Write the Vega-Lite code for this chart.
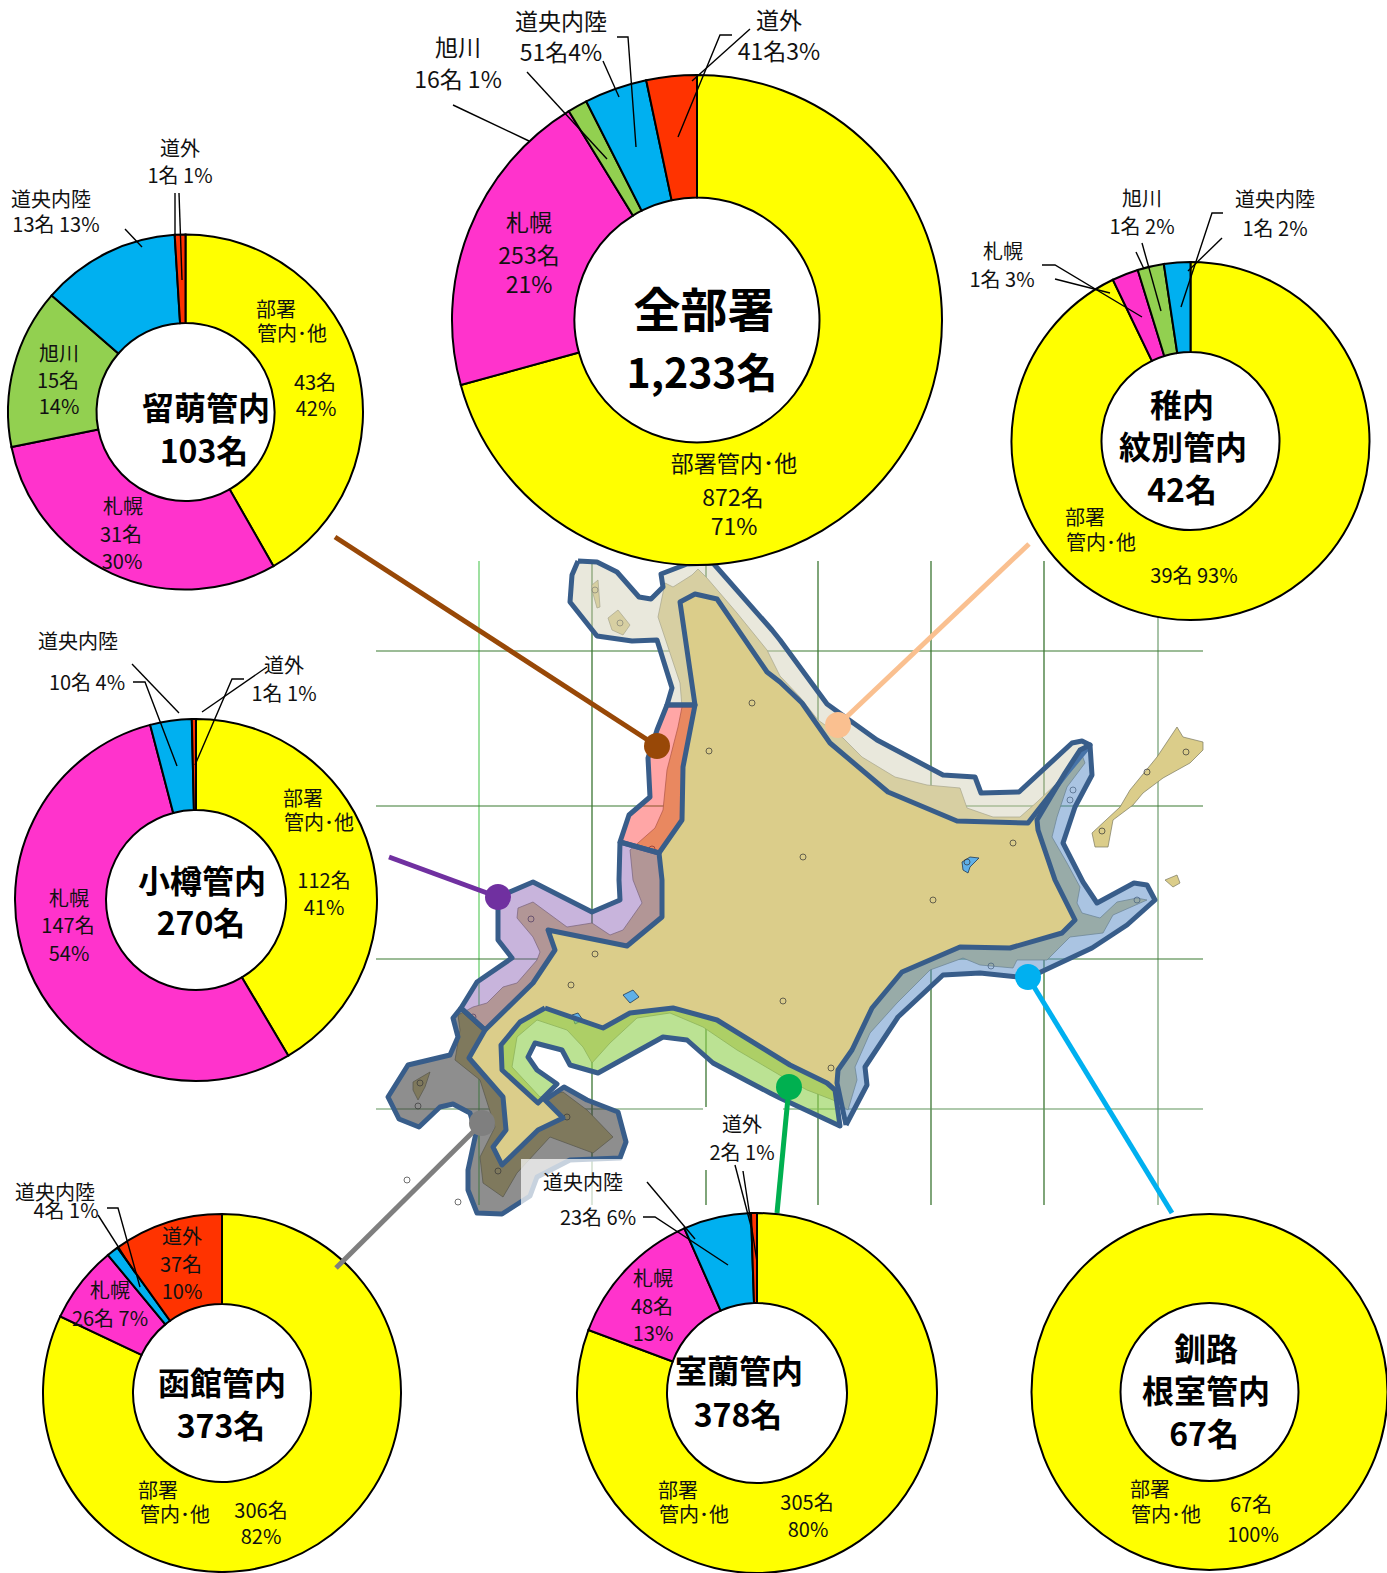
{
"$schema":"https://vega.github.io/schema/vega-lite/v6.json",
"width":1387,"height":1573,"padding":0,
"autosize":{"type":"none"},
"background":"white",
"config":{"view":{"stroke":null},"axis":{"disable":true}},
"datasets":{
"shares":[
{"panel":"全部署","category":"部署管内・他","value":872,"order":1},{"panel":"全部署","category":"札幌","value":253,"order":2},{"panel":"全部署","category":"旭川","value":16,"order":3},{"panel":"全部署","category":"道央内陸","value":51,"order":4},{"panel":"全部署","category":"道外","value":41,"order":5},
{"panel":"留萌","category":"部署管内・他","value":43,"order":1},{"panel":"留萌","category":"札幌","value":31,"order":2},{"panel":"留萌","category":"旭川","value":15,"order":3},{"panel":"留萌","category":"道央内陸","value":13,"order":4},{"panel":"留萌","category":"道外","value":1,"order":5},
{"panel":"稚内","category":"部署管内・他","value":39,"order":1},{"panel":"稚内","category":"札幌","value":1,"order":2},{"panel":"稚内","category":"旭川","value":1,"order":3},{"panel":"稚内","category":"道央内陸","value":1,"order":4},
{"panel":"小樽","category":"部署管内・他","value":112,"order":1},{"panel":"小樽","category":"札幌","value":147,"order":2},{"panel":"小樽","category":"道央内陸","value":10,"order":3},{"panel":"小樽","category":"道外","value":1,"order":4},
{"panel":"函館","category":"部署管内・他","value":306,"order":1},{"panel":"函館","category":"札幌","value":26,"order":2},{"panel":"函館","category":"道央内陸","value":4,"order":3},{"panel":"函館","category":"道外","value":37,"order":4},
{"panel":"室蘭","category":"部署管内・他","value":305,"order":1},{"panel":"室蘭","category":"札幌","value":48,"order":2},{"panel":"室蘭","category":"道央内陸","value":23,"order":3},{"panel":"室蘭","category":"道外","value":2,"order":4},
{"panel":"釧路","category":"部署管内・他","value":67,"order":1}
],
"grid":[
{"kind":"v1","x":479,"y":561,"x2":479,"y2":1205},{"kind":"v","x":592,"y":561,"x2":592,"y2":1205},{"kind":"v","x":706,"y":561,"x2":706,"y2":1205},{"kind":"v","x":818,"y":561,"x2":818,"y2":1205},{"kind":"v","x":931,"y":561,"x2":931,"y2":1205},{"kind":"v","x":1044,"y":561,"x2":1044,"y2":1205},{"kind":"v2","x":1158,"y":561,"x2":1158,"y2":1205},
{"kind":"h","x":376,"y":651,"x2":1203,"y2":651},{"kind":"h","x":376,"y":806,"x2":1203,"y2":806},{"kind":"h","x":376,"y":959,"x2":1203,"y2":959},{"kind":"h2","x":376,"y":1109,"x2":1203,"y2":1109}
],
"land":[
{"id":"main","i":0,"x":698,"y":569},{"id":"main","i":1,"x":707,"y":578},{"id":"main","i":2,"x":737,"y":613},{"id":"main","i":3,"x":767,"y":650},{"id":"main","i":4,"x":780,"y":676},{"id":"main","i":5,"x":800,"y":697},{"id":"main","i":6,"x":818,"y":720},{"id":"main","i":7,"x":843,"y":738},{"id":"main","i":8,"x":862,"y":757},{"id":"main","i":9,"x":895,"y":777},{"id":"main","i":10,"x":927,"y":785},{"id":"main","i":11,"x":960,"y":788},{"id":"main","i":12,"x":967,"y":808},{"id":"main","i":13,"x":993,"y":817},{"id":"main","i":14,"x":1020,"y":817},{"id":"main","i":15,"x":1037,"y":802},{"id":"main","i":16,"x":1057,"y":783},{"id":"main","i":17,"x":1082,"y":755},{"id":"main","i":18,"x":1085,"y":763},{"id":"main","i":19,"x":1067,"y":787},{"id":"main","i":20,"x":1057,"y":817},{"id":"main","i":21,"x":1052,"y":837},{"id":"main","i":22,"x":1067,"y":863},{"id":"main","i":23,"x":1080,"y":887},{"id":"main","i":24,"x":1077,"y":903},{"id":"main","i":25,"x":1082,"y":913},{"id":"main","i":26,"x":1100,"y":918},{"id":"main","i":27,"x":1117,"y":902},{"id":"main","i":28,"x":1137,"y":898},{"id":"main","i":29,"x":1147,"y":900},{"id":"main","i":30,"x":1113,"y":915},{"id":"main","i":31,"x":1103,"y":933},{"id":"main","i":32,"x":1070,"y":937},{"id":"main","i":33,"x":1060,"y":947},{"id":"main","i":34,"x":1047,"y":960},{"id":"main","i":35,"x":1017,"y":960},{"id":"main","i":36,"x":1013,"y":968},{"id":"main","i":37,"x":980,"y":965},{"id":"main","i":38,"x":963,"y":958},{"id":"main","i":39,"x":930,"y":970},{"id":"main","i":40,"x":897,"y":1003},{"id":"main","i":41,"x":870,"y":1033},{"id":"main","i":42,"x":855,"y":1067},{"id":"main","i":43,"x":857,"y":1080},{"id":"main","i":44,"x":848,"y":1110},{"id":"main","i":45,"x":833,"y":1100},{"id":"main","i":46,"x":807,"y":1090},{"id":"main","i":47,"x":783,"y":1077},{"id":"main","i":48,"x":737,"y":1050},{"id":"main","i":49,"x":703,"y":1027},{"id":"main","i":50,"x":670,"y":1013},{"id":"main","i":51,"x":637,"y":1018},{"id":"main","i":52,"x":610,"y":1043},{"id":"main","i":53,"x":592,"y":1063},{"id":"main","i":54,"x":583,"y":1047},{"id":"main","i":55,"x":567,"y":1030},{"id":"main","i":56,"x":537,"y":1020},{"id":"main","i":57,"x":517,"y":1037},{"id":"main","i":58,"x":512,"y":1067},{"id":"main","i":59,"x":540,"y":1097},{"id":"main","i":60,"x":563,"y":1092},{"id":"main","i":61,"x":587,"y":1110},{"id":"main","i":62,"x":613,"y":1137},{"id":"main","i":63,"x":593,"y":1153},{"id":"main","i":64,"x":550,"y":1137},{"id":"main","i":65,"x":517,"y":1173},{"id":"main","i":66,"x":503,"y":1197},{"id":"main","i":67,"x":483,"y":1183},{"id":"main","i":68,"x":480,"y":1157},{"id":"main","i":69,"x":495,"y":1127},{"id":"main","i":70,"x":480,"y":1080},{"id":"main","i":71,"x":455,"y":1060},{"id":"main","i":72,"x":460,"y":1030},{"id":"main","i":73,"x":458,"y":1015},{"id":"main","i":74,"x":473,"y":1007},{"id":"main","i":75,"x":487,"y":1003},{"id":"main","i":76,"x":503,"y":987},{"id":"main","i":77,"x":517,"y":983},{"id":"main","i":78,"x":537,"y":960},{"id":"main","i":79,"x":540,"y":952},{"id":"main","i":80,"x":533,"y":937},{"id":"main","i":81,"x":517,"y":918},{"id":"main","i":82,"x":518,"y":908},{"id":"main","i":83,"x":533,"y":902},{"id":"main","i":84,"x":567,"y":927},{"id":"main","i":85,"x":592,"y":923},{"id":"main","i":86,"x":610,"y":935},{"id":"main","i":87,"x":623,"y":930},{"id":"main","i":88,"x":642,"y":903},{"id":"main","i":89,"x":633,"y":880},{"id":"main","i":90,"x":630,"y":850},{"id":"main","i":91,"x":655,"y":828},{"id":"main","i":92,"x":663,"y":810},{"id":"main","i":93,"x":667,"y":770},{"id":"main","i":94,"x":678,"y":727},{"id":"main","i":95,"x":682,"y":707},{"id":"main","i":96,"x":680,"y":683},{"id":"main","i":97,"x":670,"y":653},{"id":"main","i":98,"x":658,"y":617},{"id":"main","i":99,"x":665,"y":583},{"id":"main","i":100,"x":673,"y":587},{"id":"main","i":101,"x":692,"y":575},{"id":"main","i":102,"x":698,"y":569},
{"id":"rebun","i":0,"x":592,"y":585},{"id":"rebun","i":1,"x":598,"y":580},{"id":"rebun","i":2,"x":600,"y":607},{"id":"rebun","i":3,"x":597,"y":608},{"id":"rebun","i":4,"x":592,"y":590},{"id":"rebun","i":5,"x":592,"y":585},
{"id":"rishiri","i":0,"x":608,"y":618},{"id":"rishiri","i":1,"x":618,"y":610},{"id":"rishiri","i":2,"x":630,"y":625},{"id":"rishiri","i":3,"x":623,"y":635},{"id":"rishiri","i":4,"x":612,"y":630},{"id":"rishiri","i":5,"x":608,"y":618},
{"id":"okushiri","i":0,"x":413,"y":1082},{"id":"okushiri","i":1,"x":430,"y":1072},{"id":"okushiri","i":2,"x":425,"y":1087},{"id":"okushiri","i":3,"x":418,"y":1100},{"id":"okushiri","i":4,"x":413,"y":1090},{"id":"okushiri","i":5,"x":413,"y":1082},
{"id":"kunashiri","i":0,"x":1092,"y":833},{"id":"kunashiri","i":1,"x":1120,"y":807},{"id":"kunashiri","i":2,"x":1130,"y":790},{"id":"kunashiri","i":3,"x":1157,"y":757},{"id":"kunashiri","i":4,"x":1177,"y":727},{"id":"kunashiri","i":5,"x":1183,"y":737},{"id":"kunashiri","i":6,"x":1203,"y":742},{"id":"kunashiri","i":7,"x":1203,"y":750},{"id":"kunashiri","i":8,"x":1190,"y":763},{"id":"kunashiri","i":9,"x":1163,"y":778},{"id":"kunashiri","i":10,"x":1143,"y":793},{"id":"kunashiri","i":11,"x":1133,"y":805},{"id":"kunashiri","i":12,"x":1113,"y":820},{"id":"kunashiri","i":13,"x":1108,"y":847},{"id":"kunashiri","i":14,"x":1095,"y":847},{"id":"kunashiri","i":15,"x":1092,"y":833},
{"id":"shikotan","i":0,"x":1165,"y":880},{"id":"shikotan","i":1,"x":1177,"y":875},{"id":"shikotan","i":2,"x":1180,"y":883},{"id":"shikotan","i":3,"x":1173,"y":887},{"id":"shikotan","i":4,"x":1165,"y":880}
],
"lakes":[
{"id":"a","i":0,"x":962,"y":862},{"id":"a","i":1,"x":970,"y":857},{"id":"a","i":2,"x":979,"y":858},{"id":"a","i":3,"x":970,"y":867},{"id":"a","i":4,"x":968,"y":873},{"id":"a","i":5,"x":963,"y":870},{"id":"a","i":6,"x":962,"y":862},
{"id":"b","i":0,"x":623,"y":995},{"id":"b","i":1,"x":633,"y":990},{"id":"b","i":2,"x":639,"y":997},{"id":"b","i":3,"x":630,"y":1003},{"id":"b","i":4,"x":623,"y":995},
{"id":"c","i":0,"x":572,"y":1015},{"id":"c","i":1,"x":578,"y":1013},{"id":"c","i":2,"x":583,"y":1020},{"id":"c","i":3,"x":575,"y":1024},{"id":"c","i":4,"x":572,"y":1015}
],
"towns":[{"x":752,"y":703},{"x":709,"y":751},{"x":652,"y":849},{"x":595,"y":590},{"x":620,"y":623},{"x":803,"y":857},{"x":1013,"y":843},{"x":1186,"y":752},{"x":1147,"y":772},{"x":1102,"y":831},{"x":967,"y":862},{"x":1073,"y":790},{"x":1070,"y":800},{"x":531,"y":919},{"x":595,"y":954},{"x":571,"y":985},{"x":783,"y":1001},{"x":567,"y":1117},{"x":498,"y":1171},{"x":420,"y":1083},{"x":418,"y":1106},{"x":407,"y":1180},{"x":458,"y":1202},{"x":473,"y":1017},{"x":933,"y":900},{"x":831,"y":1068},{"x":991,"y":966},{"x":1137,"y":900}],
"regions":[
{"r":"宗谷","i":0,"x":578,"y":561},{"r":"宗谷","i":1,"x":597,"y":562},{"r":"宗谷","i":2,"x":617,"y":572},{"r":"宗谷","i":3,"x":639,"y":597},{"r":"宗谷","i":4,"x":651,"y":599},{"r":"宗谷","i":5,"x":663,"y":587},{"r":"宗谷","i":6,"x":661,"y":574},{"r":"宗谷","i":7,"x":687,"y":564},{"r":"宗谷","i":8,"x":713,"y":563},{"r":"宗谷","i":9,"x":772,"y":630},{"r":"宗谷","i":10,"x":780,"y":640},{"r":"宗谷","i":11,"x":827,"y":704},{"r":"宗谷","i":12,"x":877,"y":740},{"r":"宗谷","i":13,"x":943,"y":775},{"r":"宗谷","i":14,"x":975,"y":777},{"r":"宗谷","i":15,"x":981,"y":793},{"r":"宗谷","i":16,"x":1019,"y":792},{"r":"宗谷","i":17,"x":1072,"y":743},{"r":"宗谷","i":18,"x":1082,"y":741},{"r":"宗谷","i":19,"x":1090,"y":745},{"r":"宗谷","i":20,"x":1067,"y":773},{"r":"宗谷","i":21,"x":1028,"y":823},{"r":"宗谷","i":22,"x":957,"y":821},{"r":"宗谷","i":23,"x":888,"y":792},{"r":"宗谷","i":24,"x":830,"y":743},{"r":"宗谷","i":25,"x":802,"y":703},{"r":"宗谷","i":26,"x":780,"y":682},{"r":"宗谷","i":27,"x":767,"y":672},{"r":"宗谷","i":28,"x":717,"y":599},{"r":"宗谷","i":29,"x":695,"y":594},{"r":"宗谷","i":30,"x":680,"y":602},{"r":"宗谷","i":31,"x":695,"y":705},{"r":"宗谷","i":32,"x":667,"y":705},{"r":"宗谷","i":33,"x":672,"y":688},{"r":"宗谷","i":34,"x":657,"y":640},{"r":"宗谷","i":35,"x":632,"y":641},{"r":"宗谷","i":36,"x":597,"y":636},{"r":"宗谷","i":37,"x":570,"y":602},{"r":"宗谷","i":38,"x":572,"y":575},{"r":"宗谷","i":39,"x":578,"y":561},
{"r":"留萌","i":0,"x":667,"y":705},{"r":"留萌","i":1,"x":695,"y":705},{"r":"留萌","i":2,"x":683,"y":767},{"r":"留萌","i":3,"x":682,"y":820},{"r":"留萌","i":4,"x":659,"y":853},{"r":"留萌","i":5,"x":620,"y":842},{"r":"留萌","i":6,"x":629,"y":815},{"r":"留萌","i":7,"x":650,"y":797},{"r":"留萌","i":8,"x":648,"y":758},{"r":"留萌","i":9,"x":657,"y":730},{"r":"留萌","i":10,"x":667,"y":705},
{"r":"小樽","i":0,"x":620,"y":842},{"r":"小樽","i":1,"x":659,"y":853},{"r":"小樽","i":2,"x":662,"y":880},{"r":"小樽","i":3,"x":662,"y":917},{"r":"小樽","i":4,"x":627,"y":946},{"r":"小樽","i":5,"x":548,"y":930},{"r":"小樽","i":6,"x":555,"y":950},{"r":"小樽","i":7,"x":533,"y":983},{"r":"小樽","i":8,"x":485,"y":1030},{"r":"小樽","i":9,"x":461,"y":1008},{"r":"小樽","i":10,"x":477,"y":982},{"r":"小樽","i":11,"x":512,"y":958},{"r":"小樽","i":12,"x":498,"y":940},{"r":"小樽","i":13,"x":498,"y":897},{"r":"小樽","i":14,"x":533,"y":882},{"r":"小樽","i":15,"x":592,"y":912},{"r":"小樽","i":16,"x":620,"y":900},{"r":"小樽","i":17,"x":619,"y":880},{"r":"小樽","i":18,"x":620,"y":842},
{"r":"函館","i":0,"x":461,"y":1008},{"r":"函館","i":1,"x":485,"y":1030},{"r":"函館","i":2,"x":469,"y":1058},{"r":"函館","i":3,"x":503,"y":1097},{"r":"函館","i":4,"x":506,"y":1130},{"r":"函館","i":5,"x":493,"y":1147},{"r":"函館","i":6,"x":502,"y":1165},{"r":"函館","i":7,"x":538,"y":1130},{"r":"函館","i":8,"x":563,"y":1118},{"r":"函館","i":9,"x":545,"y":1100},{"r":"函館","i":10,"x":564,"y":1087},{"r":"函館","i":11,"x":587,"y":1100},{"r":"函館","i":12,"x":618,"y":1112},{"r":"函館","i":13,"x":626,"y":1142},{"r":"函館","i":14,"x":620,"y":1158},{"r":"函館","i":15,"x":570,"y":1160},{"r":"函館","i":16,"x":537,"y":1177},{"r":"函館","i":17,"x":530,"y":1196},{"r":"函館","i":18,"x":502,"y":1214},{"r":"函館","i":19,"x":477,"y":1213},{"r":"函館","i":20,"x":468,"y":1190},{"r":"函館","i":21,"x":468,"y":1170},{"r":"函館","i":22,"x":476,"y":1133},{"r":"函館","i":23,"x":470,"y":1113},{"r":"函館","i":24,"x":453,"y":1104},{"r":"函館","i":25,"x":440,"y":1107},{"r":"函館","i":26,"x":419,"y":1127},{"r":"函館","i":27,"x":399,"y":1119},{"r":"函館","i":28,"x":388,"y":1097},{"r":"函館","i":29,"x":408,"y":1065},{"r":"函館","i":30,"x":450,"y":1055},{"r":"函館","i":31,"x":458,"y":1037},{"r":"函館","i":32,"x":453,"y":1018},{"r":"函館","i":33,"x":461,"y":1008},
{"r":"室蘭","i":0,"x":545,"y":1008},{"r":"室蘭","i":1,"x":603,"y":1028},{"r":"室蘭","i":2,"x":630,"y":1013},{"r":"室蘭","i":3,"x":673,"y":1008},{"r":"室蘭","i":4,"x":717,"y":1020},{"r":"室蘭","i":5,"x":790,"y":1065},{"r":"室蘭","i":6,"x":827,"y":1083},{"r":"室蘭","i":7,"x":835,"y":1090},{"r":"室蘭","i":8,"x":840,"y":1126},{"r":"室蘭","i":9,"x":780,"y":1098},{"r":"室蘭","i":10,"x":770,"y":1093},{"r":"室蘭","i":11,"x":713,"y":1063},{"r":"室蘭","i":12,"x":687,"y":1040},{"r":"室蘭","i":13,"x":663,"y":1037},{"r":"室蘭","i":14,"x":598,"y":1073},{"r":"室蘭","i":15,"x":570,"y":1065},{"r":"室蘭","i":16,"x":562,"y":1050},{"r":"室蘭","i":17,"x":535,"y":1043},{"r":"室蘭","i":18,"x":528,"y":1057},{"r":"室蘭","i":19,"x":537,"y":1070},{"r":"室蘭","i":20,"x":557,"y":1084},{"r":"室蘭","i":21,"x":538,"y":1103},{"r":"室蘭","i":22,"x":502,"y":1070},{"r":"室蘭","i":23,"x":501,"y":1045},{"r":"室蘭","i":24,"x":520,"y":1022},{"r":"室蘭","i":25,"x":545,"y":1008},
{"r":"釧路","i":0,"x":846,"y":1125},{"r":"釧路","i":1,"x":867,"y":1085},{"r":"釧路","i":2,"x":865,"y":1067},{"r":"釧路","i":3,"x":898,"y":1017},{"r":"釧路","i":4,"x":943,"y":975},{"r":"釧路","i":5,"x":980,"y":973},{"r":"釧路","i":6,"x":1028,"y":978},{"r":"釧路","i":7,"x":1092,"y":948},{"r":"釧路","i":8,"x":1127,"y":925},{"r":"釧路","i":9,"x":1155,"y":900},{"r":"釧路","i":10,"x":1147,"y":885},{"r":"釧路","i":11,"x":1134,"y":883},{"r":"釧路","i":12,"x":1097,"y":903},{"r":"釧路","i":13,"x":1083,"y":882},{"r":"釧路","i":14,"x":1063,"y":843},{"r":"釧路","i":15,"x":1075,"y":807},{"r":"釧路","i":16,"x":1092,"y":775},{"r":"釧路","i":17,"x":1090,"y":745},{"r":"釧路","i":18,"x":1080,"y":750},{"r":"釧路","i":19,"x":1065,"y":773},{"r":"釧路","i":20,"x":1037,"y":820},{"r":"釧路","i":21,"x":1038,"y":830},{"r":"釧路","i":22,"x":1055,"y":880},{"r":"釧路","i":23,"x":1075,"y":920},{"r":"釧路","i":24,"x":1062,"y":933},{"r":"釧路","i":25,"x":1010,"y":948},{"r":"釧路","i":26,"x":960,"y":947},{"r":"釧路","i":27,"x":902,"y":972},{"r":"釧路","i":28,"x":872,"y":1008},{"r":"釧路","i":29,"x":852,"y":1050},{"r":"釧路","i":30,"x":838,"y":1070},{"r":"釧路","i":31,"x":837,"y":1083},{"r":"釧路","i":32,"x":846,"y":1125}
],
"boxes":[{"kind":"soft","x":521,"y":1159,"x2":647,"y2":1206},{"kind":"solid","x":703,"y":1107,"x2":783,"y2":1170}],
"connectors":[
{"r":"留萌","x":335,"y":537,"x2":657,"y2":746},
{"r":"稚内","x":1029,"y":544,"x2":838,"y2":725},
{"r":"小樽","x":389,"y":857,"x2":498,"y2":897},
{"r":"函館","x":336,"y":1268,"x2":482,"y2":1123},
{"r":"室蘭","x":777,"y":1213,"x2":789,"y2":1087},
{"r":"釧路","x":1172,"y":1213,"x2":1028,"y2":977}
],
"leaders":[
{"id":"a1","i":0,"x":732,"y":35},{"id":"a1","i":1,"x":720,"y":35},{"id":"a1","i":2,"x":678,"y":137},
{"id":"a2","i":0,"x":750,"y":29},{"id":"a2","i":1,"x":692,"y":81},
{"id":"a3","i":0,"x":617,"y":37},{"id":"a3","i":1,"x":628,"y":37},{"id":"a3","i":2,"x":636,"y":147},
{"id":"a4","i":0,"x":603,"y":61},{"id":"a4","i":1,"x":619,"y":97},
{"id":"a5","i":0,"x":527,"y":72},{"id":"a5","i":1,"x":607,"y":159},
{"id":"a6","i":0,"x":453,"y":105},{"id":"a6","i":1,"x":529,"y":141},
{"id":"b1","i":0,"x":175,"y":193},{"id":"b1","i":1,"x":175,"y":237},
{"id":"b2","i":0,"x":179,"y":193},{"id":"b2","i":1,"x":182,"y":280},
{"id":"b3","i":0,"x":125,"y":229},{"id":"b3","i":1,"x":142,"y":247},
{"id":"c1","i":0,"x":1223,"y":213},{"id":"c1","i":1,"x":1212,"y":213},{"id":"c1","i":2,"x":1181,"y":307},
{"id":"c2","i":0,"x":1222,"y":238},{"id":"c2","i":1,"x":1188,"y":271},
{"id":"c3","i":0,"x":1142,"y":243},{"id":"c3","i":1,"x":1161,"y":311},
{"id":"c4","i":0,"x":1136,"y":252},{"id":"c4","i":1,"x":1144,"y":269},
{"id":"c5","i":0,"x":1042,"y":265},{"id":"c5","i":1,"x":1055,"y":265},{"id":"c5","i":2,"x":1142,"y":317},
{"id":"c6","i":0,"x":1055,"y":279},{"id":"c6","i":1,"x":1110,"y":293},
{"id":"d1","i":0,"x":132,"y":664},{"id":"d1","i":1,"x":179,"y":713},
{"id":"d2","i":0,"x":133,"y":682},{"id":"d2","i":1,"x":145,"y":682},{"id":"d2","i":2,"x":177,"y":766},
{"id":"d3","i":0,"x":244,"y":679},{"id":"d3","i":1,"x":232,"y":679},{"id":"d3","i":2,"x":195,"y":765},
{"id":"d4","i":0,"x":267,"y":667},{"id":"d4","i":1,"x":202,"y":712},
{"id":"e1","i":0,"x":107,"y":1208},{"id":"e1","i":1,"x":118,"y":1208},{"id":"e1","i":2,"x":140,"y":1287},
{"id":"e2","i":0,"x":98,"y":1215},{"id":"e2","i":1,"x":135,"y":1273},
{"id":"f1","i":0,"x":647,"y":1182},{"id":"f1","i":1,"x":695,"y":1239},
{"id":"f2","i":0,"x":643,"y":1217},{"id":"f2","i":1,"x":655,"y":1217},{"id":"f2","i":2,"x":728,"y":1265},
{"id":"f3","i":0,"x":735,"y":1165},{"id":"f3","i":1,"x":752,"y":1230},
{"id":"f4","i":0,"x":743,"y":1171},{"id":"f4","i":1,"x":757,"y":1262}
],
"labels":[
{"kind":"bigTitle","text":"全部署","x":704,"y":311},{"kind":"bigCount","text":"1,233名","x":702,"y":374},
{"kind":"main","text":"部署管内･他","x":734,"y":464},{"kind":"main","text":"872名","x":733,"y":498},{"kind":"main","text":"71%","x":734,"y":527},{"kind":"main","text":"札幌","x":529,"y":223},{"kind":"main","text":"253名","x":529,"y":256},{"kind":"main","text":"21%","x":529,"y":285},{"kind":"main","text":"旭川","x":458,"y":48},{"kind":"main","text":"16名 1%","x":458,"y":80},{"kind":"main","text":"道央内陸","x":561,"y":22},{"kind":"main","text":"51名4%","x":561,"y":53},{"kind":"main","text":"道外","x":779,"y":21},{"kind":"main","text":"41名3%","x":779,"y":52},
{"kind":"title","text":"留萌管内","x":206,"y":408},{"kind":"title","text":"103名","x":204,"y":451},{"kind":"small","text":"部署","x":276,"y":310},{"kind":"small","text":"管内･他","x":292,"y":334},{"kind":"small","text":"43名","x":315,"y":383},{"kind":"small","text":"42%","x":316,"y":409},{"kind":"small","text":"旭川","x":59,"y":354},{"kind":"small","text":"15名","x":58,"y":381},{"kind":"small","text":"14%","x":59,"y":407},{"kind":"small","text":"札幌","x":123,"y":507},{"kind":"small","text":"31名","x":121,"y":535},{"kind":"small","text":"30%","x":122,"y":562},{"kind":"small","text":"道央内陸","x":51,"y":200},{"kind":"small","text":"13名  13%","x":56,"y":225},{"kind":"small","text":"道外","x":180,"y":149},{"kind":"small","text":"1名 1%","x":180,"y":176},
{"kind":"title","text":"稚内","x":1182,"y":405},{"kind":"title","text":"紋別管内","x":1183,"y":447},{"kind":"title","text":"42名","x":1182,"y":490},{"kind":"small","text":"部署","x":1085,"y":518},{"kind":"small","text":"管内･他","x":1101,"y":543},{"kind":"small","text":"39名 93%","x":1194,"y":576},{"kind":"small","text":"札幌","x":1003,"y":252},{"kind":"small","text":"1名 3%","x":1002,"y":280},{"kind":"small","text":"旭川","x":1142,"y":199},{"kind":"small","text":"1名 2%","x":1142,"y":227},{"kind":"small","text":"道央内陸","x":1275,"y":200},{"kind":"small","text":"1名 2%","x":1275,"y":229},
{"kind":"title","text":"小樽管内","x":202,"y":881},{"kind":"title","text":"270名","x":201,"y":923},{"kind":"small","text":"部署","x":303,"y":799},{"kind":"small","text":"管内･他","x":319,"y":823},{"kind":"small","text":"112名","x":324,"y":881},{"kind":"small","text":"41%","x":324,"y":908},{"kind":"small","text":"札幌","x":69,"y":899},{"kind":"small","text":"147名","x":68,"y":926},{"kind":"small","text":"54%","x":69,"y":954},{"kind":"small","text":"道央内陸","x":78,"y":642},{"kind":"small","text":"10名 4%","x":87,"y":683},{"kind":"small","text":"道外","x":284,"y":666},{"kind":"small","text":"1名 1%","x":284,"y":694},
{"kind":"title","text":"函館管内","x":222,"y":1383},{"kind":"title","text":"373名","x":221,"y":1426},{"kind":"small","text":"部署","x":158,"y":1491},{"kind":"small","text":"管内･他","x":175,"y":1515},{"kind":"small","text":"306名","x":261,"y":1511},{"kind":"small","text":"82%","x":261,"y":1537},{"kind":"small","text":"札幌","x":110,"y":1291},{"kind":"small","text":"26名 7%","x":110,"y":1319},{"kind":"small","text":"道外","x":182,"y":1237},{"kind":"small","text":"37名","x":181,"y":1265},{"kind":"small","text":"10%","x":182,"y":1292},{"kind":"small","text":"道央内陸","x":55,"y":1193},{"kind":"small","text":"4名 1%","x":66,"y":1211},
{"kind":"title","text":"室蘭管内","x":739,"y":1371},{"kind":"title","text":"378名","x":738,"y":1415},{"kind":"small","text":"部署","x":678,"y":1491},{"kind":"small","text":"管内･他","x":694,"y":1515},{"kind":"small","text":"305名","x":807,"y":1503},{"kind":"small","text":"80%","x":808,"y":1530},{"kind":"small","text":"札幌","x":653,"y":1279},{"kind":"small","text":"48名","x":652,"y":1307},{"kind":"small","text":"13%","x":653,"y":1334},{"kind":"small","text":"道央内陸","x":583,"y":1183},{"kind":"small","text":"23名 6%","x":598,"y":1218},{"kind":"small","text":"道外","x":742,"y":1125},{"kind":"small","text":"2名 1%","x":742,"y":1153},
{"kind":"title","text":"釧路","x":1206,"y":1349},{"kind":"title","text":"根室管内","x":1206,"y":1391},{"kind":"title","text":"67名","x":1204,"y":1434},{"kind":"small","text":"部署","x":1150,"y":1490},{"kind":"small","text":"管内･他","x":1166,"y":1515},{"kind":"small","text":"67名","x":1251,"y":1505},{"kind":"small","text":"100%","x":1253,"y":1535}
]
},
"layer":[
{"data":{"name":"grid"},"mark":{"type":"rule","strokeWidth":1.2},"encoding":{
"x":{"field":"x","type":"quantitative","scale":{"domain":[0,1387],"nice":false,"zero":false}},
"y":{"field":"y","type":"quantitative","scale":{"domain":[0,1573],"reverse":true,"nice":false,"zero":false}},
"x2":{"field":"x2"},"y2":{"field":"y2"},
"color":{"field":"kind","type":"nominal","legend":null,"scale":{"domain":["v","v1","v2","h","h2","留萌","稚内","小樽","函館","室蘭","釧路"],"range":["#2A6A20","#5FCB63","#6E9C6E","#3A7A30","#5F935A","#984807","#FAC090","#7030A0","#7F7F7F","#00B050","#00B0F0"]}}}},
{"data":{"name":"land"},"mark":{"type":"line","fill":"#DBCD8A","stroke":"#7A7860","strokeWidth":0.7},"encoding":{"x":{"field":"x","type":"quantitative"},"y":{"field":"y","type":"quantitative"},"detail":{"field":"id"},"order":{"field":"i"}}},
{"data":{"name":"lakes"},"mark":{"type":"line","fill":"#5FB0E8","stroke":"#1F3A55","strokeWidth":0.8},"encoding":{"x":{"field":"x","type":"quantitative"},"y":{"field":"y","type":"quantitative"},"detail":{"field":"id"},"order":{"field":"i"}}},
{"data":{"name":"towns"},"mark":{"type":"point","shape":"circle","filled":false,"stroke":"#333333","strokeWidth":1,"size":36},"encoding":{"x":{"field":"x","type":"quantitative"},"y":{"field":"y","type":"quantitative"}}},
{"data":{"name":"regions"},"mark":{"type":"line","stroke":"#385D8A","strokeWidth":5,"strokeJoin":"round"},"encoding":{"x":{"field":"x","type":"quantitative"},"y":{"field":"y","type":"quantitative"},"order":{"field":"i"},
"fill":{"field":"r","type":"nominal","legend":null,"scale":{"domain":["部署管内・他","札幌","旭川","道央内陸","道外","宗谷","留萌","小樽","函館","室蘭","釧路"],"range":["#FFFF00","#FF33CC","#92D050","#00B0F0","#FF3300","rgba(212,210,186,0.5)","rgba(255,32,32,0.4)","rgba(117,67,167,0.4)","rgba(60,60,60,0.58)","rgba(146,208,80,0.62)","rgba(85,137,197,0.5)"]}}}},
{"data":{"name":"boxes"},"mark":{"type":"rect"},"encoding":{"x":{"field":"x","type":"quantitative"},"x2":{"field":"x2"},"y":{"field":"y","type":"quantitative"},"y2":{"field":"y2"},"color":{"value":"white"},"opacity":{"field":"kind","type":"nominal","legend":null,"scale":{"domain":["soft","solid"],"range":[0.72,1]}}}},
{"data":{"name":"shares"},"transform":[{"filter":"datum.panel==='全部署'"},{"stack":"value","groupby":["panel"],"sort":[{"field":"order"}],"offset":"normalize","as":["t0","t1"]}],"mark":{"type":"arc","stroke":"black","strokeWidth":2},"encoding":{"x":{"datum":697,"type":"quantitative"},"y":{"datum":320,"type":"quantitative"},"theta":{"field":"t0","type":"quantitative","scale":{"domain":[0,1],"range":[0,6.2832]}},"theta2":{"field":"t1"},"radius":{"value":245},"radius2":{"value":122.5},"fill":{"field":"category","type":"nominal","legend":null}}},
{"data":{"name":"shares"},"transform":[{"filter":"datum.panel==='留萌'"},{"stack":"value","groupby":["panel"],"sort":[{"field":"order"}],"offset":"normalize","as":["t0","t1"]}],"mark":{"type":"arc","stroke":"black","strokeWidth":2},"encoding":{"x":{"datum":185.5,"type":"quantitative"},"y":{"datum":412,"type":"quantitative"},"theta":{"field":"t0","type":"quantitative"},"theta2":{"field":"t1"},"radius":{"value":177.5},"radius2":{"value":89},"fill":{"field":"category","type":"nominal","legend":null}}},
{"data":{"name":"shares"},"transform":[{"filter":"datum.panel==='稚内'"},{"stack":"value","groupby":["panel"],"sort":[{"field":"order"}],"offset":"normalize","as":["t0","t1"]}],"mark":{"type":"arc","stroke":"black","strokeWidth":2},"encoding":{"x":{"datum":1190.5,"type":"quantitative"},"y":{"datum":441,"type":"quantitative"},"theta":{"field":"t0","type":"quantitative"},"theta2":{"field":"t1"},"radius":{"value":179},"radius2":{"value":89},"fill":{"field":"category","type":"nominal","legend":null}}},
{"data":{"name":"shares"},"transform":[{"filter":"datum.panel==='小樽'"},{"stack":"value","groupby":["panel"],"sort":[{"field":"order"}],"offset":"normalize","as":["t0","t1"]}],"mark":{"type":"arc","stroke":"black","strokeWidth":2},"encoding":{"x":{"datum":196,"type":"quantitative"},"y":{"datum":900,"type":"quantitative"},"theta":{"field":"t0","type":"quantitative"},"theta2":{"field":"t1"},"radius":{"value":181},"radius2":{"value":90},"fill":{"field":"category","type":"nominal","legend":null}}},
{"data":{"name":"shares"},"transform":[{"filter":"datum.panel==='函館'"},{"stack":"value","groupby":["panel"],"sort":[{"field":"order"}],"offset":"normalize","as":["t0","t1"]}],"mark":{"type":"arc","stroke":"black","strokeWidth":2},"encoding":{"x":{"datum":222,"type":"quantitative"},"y":{"datum":1393,"type":"quantitative"},"theta":{"field":"t0","type":"quantitative"},"theta2":{"field":"t1"},"radius":{"value":179},"radius2":{"value":89},"fill":{"field":"category","type":"nominal","legend":null}}},
{"data":{"name":"shares"},"transform":[{"filter":"datum.panel==='室蘭'"},{"stack":"value","groupby":["panel"],"sort":[{"field":"order"}],"offset":"normalize","as":["t0","t1"]}],"mark":{"type":"arc","stroke":"black","strokeWidth":2},"encoding":{"x":{"datum":757,"type":"quantitative"},"y":{"datum":1393,"type":"quantitative"},"theta":{"field":"t0","type":"quantitative"},"theta2":{"field":"t1"},"radius":{"value":180},"radius2":{"value":90},"fill":{"field":"category","type":"nominal","legend":null}}},
{"data":{"name":"shares"},"transform":[{"filter":"datum.panel==='釧路'"},{"stack":"value","groupby":["panel"],"sort":[{"field":"order"}],"offset":"normalize","as":["t0","t1"]}],"mark":{"type":"arc","stroke":null},"encoding":{"x":{"datum":1209.5,"type":"quantitative"},"y":{"datum":1392,"type":"quantitative"},"theta":{"field":"t0","type":"quantitative"},"theta2":{"field":"t1"},"radius":{"value":178},"radius2":{"value":89},"fill":{"field":"category","type":"nominal","legend":null}}},
{"data":{"values":[{"panel":"釧路"}]},"mark":{"type":"point","shape":"circle","filled":false,"stroke":"black","strokeWidth":2,"size":126736,"opacity":1},"encoding":{"x":{"datum":1209.5,"type":"quantitative"},"y":{"datum":1392,"type":"quantitative"}}},
{"data":{"values":[{"panel":"釧路"}]},"mark":{"type":"point","shape":"circle","filled":false,"stroke":"black","strokeWidth":2,"size":31684,"opacity":1},"encoding":{"x":{"datum":1209.5,"type":"quantitative"},"y":{"datum":1392,"type":"quantitative"}}},
{"data":{"name":"connectors"},"mark":{"type":"rule","strokeWidth":5},"encoding":{"x":{"field":"x","type":"quantitative"},"y":{"field":"y","type":"quantitative"},"x2":{"field":"x2"},"y2":{"field":"y2"},"color":{"field":"r","type":"nominal","legend":null}}},
{"data":{"name":"connectors"},"mark":{"type":"circle","size":676,"opacity":1},"encoding":{"x":{"field":"x2","type":"quantitative"},"y":{"field":"y2","type":"quantitative"},"color":{"field":"r","type":"nominal","legend":null}}},
{"data":{"name":"leaders"},"mark":{"type":"line","stroke":"black","strokeWidth":1.4},"encoding":{"x":{"field":"x","type":"quantitative"},"y":{"field":"y","type":"quantitative"},"detail":{"field":"id"},"order":{"field":"i"}}},
{"data":{"name":"labels"},"transform":[{"filter":"datum.kind==='bigTitle'"}],"mark":{"type":"text","font":"Noto Sans CJK JP","fontWeight":"bold","fontSize":47,"dy":2,"color":"black","baseline":"middle","align":"center"},"encoding":{"x":{"field":"x","type":"quantitative"},"y":{"field":"y","type":"quantitative"},"text":{"field":"text"}}},
{"data":{"name":"labels"},"transform":[{"filter":"datum.kind==='bigCount'"}],"mark":{"type":"text","font":"Noto Sans CJK JP","fontWeight":"bold","fontSize":41,"dy":2,"color":"black","baseline":"middle","align":"center"},"encoding":{"x":{"field":"x","type":"quantitative"},"y":{"field":"y","type":"quantitative"},"text":{"field":"text"}}},
{"data":{"name":"labels"},"transform":[{"filter":"datum.kind==='title'"}],"mark":{"type":"text","font":"Noto Sans CJK JP","fontWeight":"bold","fontSize":32,"dy":1.5,"color":"black","baseline":"middle","align":"center"},"encoding":{"x":{"field":"x","type":"quantitative"},"y":{"field":"y","type":"quantitative"},"text":{"field":"text"}}},
{"data":{"name":"labels"},"transform":[{"filter":"datum.kind==='main'"}],"mark":{"type":"text","font":"Noto Sans CJK JP","fontSize":23,"dy":1,"color":"#111111","baseline":"middle","align":"center"},"encoding":{"x":{"field":"x","type":"quantitative"},"y":{"field":"y","type":"quantitative"},"text":{"field":"text"}}},
{"data":{"name":"labels"},"transform":[{"filter":"datum.kind==='small'"}],"mark":{"type":"text","font":"Noto Sans CJK JP","fontSize":20,"dy":1,"color":"#111111","baseline":"middle","align":"center"},"encoding":{"x":{"field":"x","type":"quantitative"},"y":{"field":"y","type":"quantitative"},"text":{"field":"text"}}}
]
}
